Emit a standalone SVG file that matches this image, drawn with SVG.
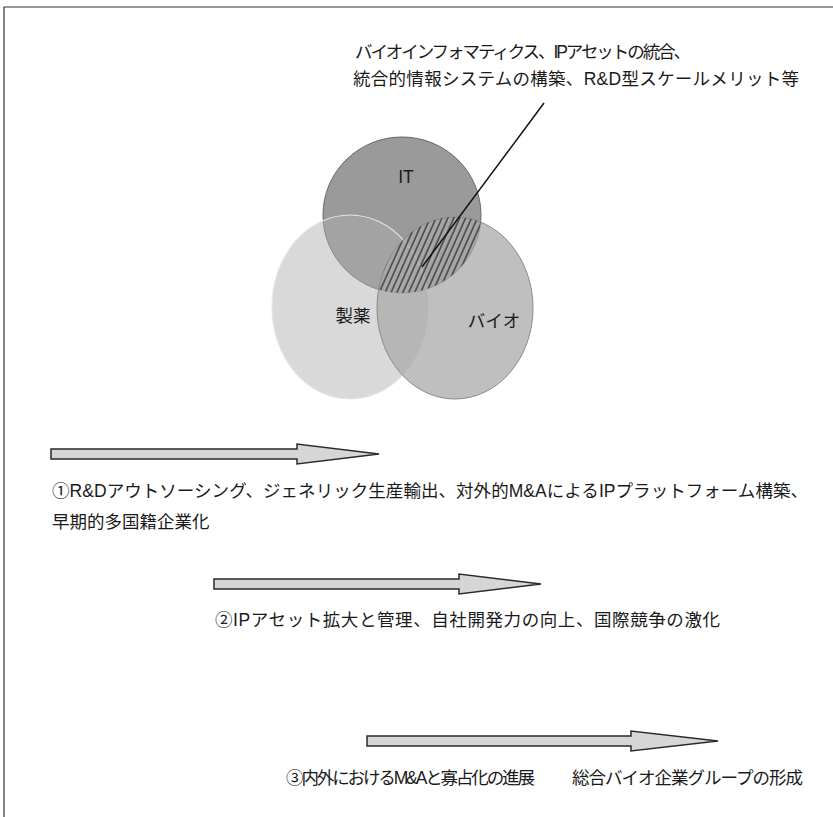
<svg xmlns="http://www.w3.org/2000/svg" width="833" height="817" viewBox="0 0 833 817">
<style>
.t{font-family:"Liberation Sans","Noto Sans CJK JP",sans-serif;fill:#1a1a1a;font-size:17.5px}
.arrow{fill:#d6d6d6;stroke:#2a2a2a;stroke-width:1.5;stroke-linejoin:miter}
</style>
<defs>
<pattern id="hatch" patternUnits="userSpaceOnUse" width="5.4" height="10" patternTransform="rotate(24)">
<line x1="1" y1="-1" x2="1" y2="11" stroke="#111" stroke-width="1"/>
</pattern>
<clipPath id="clipIT"><ellipse cx="402" cy="215" rx="79" ry="78"/></clipPath>
<clipPath id="clipBio"><ellipse cx="455" cy="308" rx="78" ry="91"/></clipPath>
</defs>
<rect width="833" height="817" fill="#fff"/>
<path d="M4,817 V7 H833" fill="none" stroke="#333" stroke-width="1.2"/>

<g id="node-it">
<ellipse cx="402" cy="215" rx="79" ry="78" fill="#9a9a9a" stroke="#666" stroke-width="1"/>
</g>
<g id="node-seiyaku">
<ellipse cx="350" cy="307" rx="78" ry="92" fill="#aeaeae" fill-opacity="0.47" stroke="#e4e4e4" stroke-width="1.2"/>
</g>
<g id="node-bio">
<ellipse cx="455" cy="308" rx="78" ry="91" fill="#aaaaaa" fill-opacity="0.75" stroke="#8a8a8a" stroke-width="1"/>
</g>
<g id="overlap-hatch" clip-path="url(#clipIT)">
<rect x="360" y="200" width="140" height="110" fill="url(#hatch)" clip-path="url(#clipBio)"/>
</g>

<g id="labels">
<text class="t" x="406" y="183" text-anchor="middle">IT</text>
<text class="t" x="353" y="322" text-anchor="middle" font-size="18">製薬</text>
<text class="t" x="494" y="327" text-anchor="middle" font-size="18">バイオ</text>
</g>

<g id="connectors">
<line x1="544" y1="103" x2="422" y2="267" stroke="#111" stroke-width="1.5"/>
<polygon class="arrow" points="51,449 297,449 297,444 379,454 297,464 297,459 51,459"/>
<polygon class="arrow" points="214,579 459,579 459,574 541,584 459,594 459,589 214,589"/>
<polygon class="arrow" points="367,736 631,736 631,731 718,741 631,751 631,746 367,746"/>
</g>

<g id="node-callout">
<text class="t" x="355" y="58" textLength="336" lengthAdjust="spacing">バイオインフォマティクス、IPアセットの統合、</text>
<text class="t" x="353" y="85" textLength="446" lengthAdjust="spacing">統合的情報システムの構築、R&amp;D型スケールメリット等</text>
</g>
<g id="node-step1">
<text class="t" x="52" y="497" textLength="756" lengthAdjust="spacing">①R&amp;Dアウトソーシング、ジェネリック生産輸出、対外的M&amp;AによるIPプラットフォーム構築、</text>
<text class="t" x="52" y="528">早期的多国籍企業化</text>
</g>
<g id="node-step2">
<text class="t" x="215" y="626" textLength="505" lengthAdjust="spacing">②IPアセット拡大と管理、自社開発力の向上、国際競争の激化</text>
</g>
<g id="node-step3">
<text class="t" x="286" y="784" textLength="249" lengthAdjust="spacing">③内外におけるM&amp;Aと寡占化の進展</text>
<text class="t" x="572" y="784" textLength="231" lengthAdjust="spacing">総合バイオ企業グループの形成</text>
</g>
</svg>
